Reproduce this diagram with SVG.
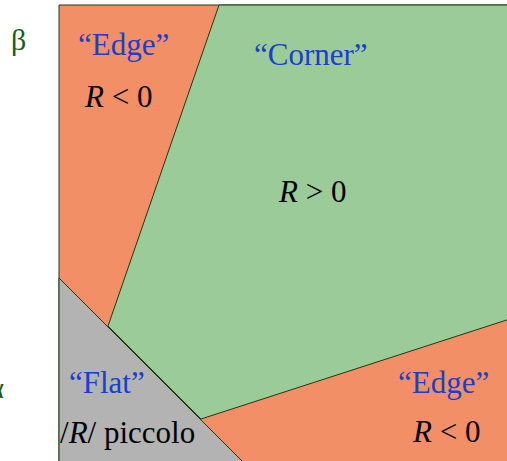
<svg xmlns="http://www.w3.org/2000/svg" width="507" height="461" viewBox="0 0 507 461">
<style>
text{font-family:'Liberation Serif','DejaVu Serif',serif}
.lbl{font-size:31px;fill:#1a3fcc}
.eq{font-size:31px;fill:#000}
.ax{font-size:30px;fill:#1d5a1d}
.edge{stroke:#1f3a10;stroke-width:1;stroke-linejoin:round}
</style>
<rect width="507" height="461" fill="#fff"/>
<g id="edge-region">
<rect class="edge" x="59" y="5" width="460" height="470" fill="#f28f66"/>
</g>
<g id="corner-region">
<polygon class="edge" points="219,5 519,5 519,316 201,419 108,326" fill="#9acb98"/>
</g>
<g id="flat-region">
<polygon class="edge" points="59,278 243,462 59,462" fill="#b3b3b3"/>
</g>
<g id="labels">
<text class="ax" x="11" y="50" font-family="Liberation Serif">β</text>
<text class="ax" x="4" y="398" text-anchor="end">α</text>
<text class="lbl" x="78" y="55">“Edge”</text>
<text class="eq" x="85" y="107"><tspan font-style="italic">R</tspan> &lt; 0</text>
<text class="lbl" x="254" y="65">“Corner”</text>
<text class="eq" x="279" y="202"><tspan font-style="italic">R</tspan> &gt; 0</text>
<text class="lbl" x="69" y="393">“Flat”</text>
<text class="eq" x="60" y="443">/<tspan font-style="italic">R</tspan>/ piccolo</text>
<text class="lbl" x="398" y="393">“Edge”</text>
<text class="eq" x="413" y="442"><tspan font-style="italic">R</tspan> &lt; 0</text>
</g>
</svg>
